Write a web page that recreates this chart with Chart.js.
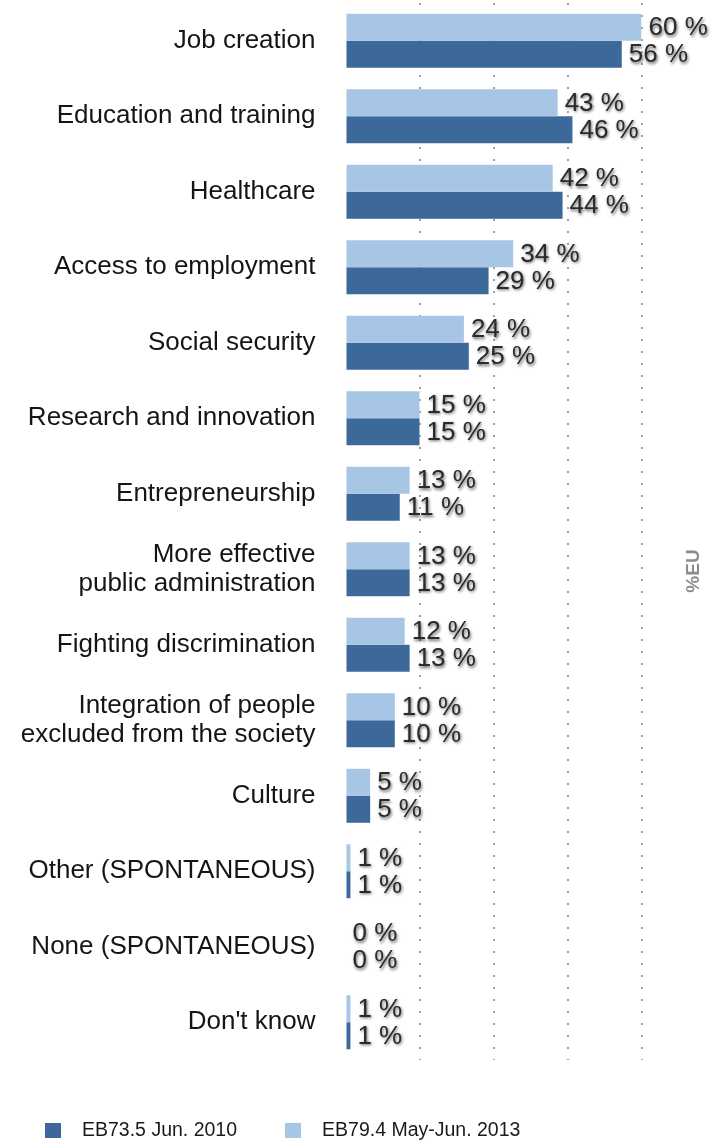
<!DOCTYPE html>
<html>
<head>
<meta charset="utf-8">
<script src="https://cdn.jsdelivr.net/npm/chart.js@4"></script>
<style>
  html, body { margin: 0; padding: 0; background: #ffffff; }
  canvas { display: block; }
</style>
</head>
<body>
<canvas id="c" width="713" height="1140"></canvas>
<script>
const categories = [
  "Job creation",
  "Education and training",
  "Healthcare",
  "Access to employment",
  "Social security",
  "Research and innovation",
  "Entrepreneurship",
  ["More effective", "public administration"],
  "Fighting discrimination",
  ["Integration of people", "excluded from the society"],
  "Culture",
  "Other (SPONTANEOUS)",
  "None (SPONTANEOUS)",
  "Don't know"
];
const seriesNames = ["EB79.4 May-Jun. 2013", "EB73.5 Jun. 2010"];
const values2013 = [60, 43, 42, 34, 24, 15, 13, 13, 12, 10, 5, 1, 0, 1];
const values2010 = [56, 46, 44, 29, 25, 15, 11, 13, 13, 10, 5, 1, 0, 1];
const gridTicks = [0, 15, 30, 45, 60];
const axisTitle = "%EU";

const LIGHT = "#a7c6e6";
const DARK = "#3d699a";
const FONT = "'Liberation Sans', Arial, Helvetica, sans-serif";

const valueLabels = {
  id: "valueLabels",
  afterDatasetsDraw(chart) {
    const ctx = chart.ctx;
    ctx.save();
    ctx.font = "26px " + FONT;
    ctx.textAlign = "left";
    ctx.textBaseline = "middle";
    chart.data.datasets.forEach((ds, di) => {
      const meta = chart.getDatasetMeta(di);
      meta.data.forEach((bar, i) => {
        const txt = ds.data[i] + " %";
        ctx.shadowColor = "rgba(0,0,0,0.6)";
        ctx.shadowBlur = 3;
        ctx.shadowOffsetX = 1;
        ctx.shadowOffsetY = 1.5;
        ctx.fillStyle = "#2a2a2a";
        ctx.fillText(txt, bar.x + 7, bar.y + 1);
      });
    });
    ctx.restore();
  }
};

const extras = {
  id: "extras",
  afterDraw(chart) {
    const ctx = chart.ctx;
    ctx.save();
    ctx.translate(694, 571);
    ctx.rotate(-Math.PI / 2);
    ctx.font = "bold 19px " + FONT;
    ctx.fillStyle = "#8c8c8c";
    ctx.textAlign = "center";
    ctx.textBaseline = "middle";
    ctx.fillText(axisTitle, 0, 0);
    ctx.restore();

    ctx.save();
    ctx.font = "19.5px " + FONT;
    ctx.textBaseline = "middle";
    ctx.textAlign = "left";
    const order = [1, 0];
    let x = 45;
    const y = 1130.5;
    order.forEach(di => {
      const ds = chart.data.datasets[di];
      ctx.fillStyle = ds.backgroundColor;
      ctx.fillRect(x, y - 7.5, 16, 15);
      ctx.fillStyle = "#1a1a1a";
      ctx.fillText(ds.label, x + 37, y);
      x += 37 + ctx.measureText(ds.label).width + 48;
    });
    ctx.restore();
  }
};

new Chart(document.getElementById("c"), {
  type: "bar",
  data: {
    labels: categories,
    datasets: [
      { label: seriesNames[0], data: values2013, backgroundColor: LIGHT, borderWidth: 0 },
      { label: seriesNames[1], data: values2010, backgroundColor: DARK, borderWidth: 0 }
    ]
  },
  options: {
    indexAxis: "y",
    responsive: false,
    animation: false,
    devicePixelRatio: 1,
    layout: { padding: { top: 3, right: 71.5, bottom: 80, left: 0 } },
    datasets: { bar: { categoryPercentage: 0.715, barPercentage: 1.0 } },
    plugins: {
      legend: { display: false },
      tooltip: { enabled: false },
      title: { display: false }
    },
    scales: {
      x: {
        min: 0,
        max: 60,
        afterBuildTicks(scale) { scale.ticks = gridTicks.map(v => ({ value: v })); },
        afterFit(scale) { scale.paddingLeft = 0; scale.paddingRight = 0; scale.height = 0; },
        ticks: { display: false, padding: 0 },
        border: { display: false, dash: [2, 10] },
        grid: {
          drawTicks: false,
          tickLength: 0,
          lineWidth: 2,
          color: c => (c.tick && c.tick.value === 0) ? "rgba(0,0,0,0)" : "#a0a0a0"
        }
      },
      y: {
        afterFit(scale) { scale.width = 345.5; scale.paddingTop = 0; scale.paddingBottom = 0; },
        border: { display: false },
        grid: { display: false, drawTicks: false, tickLength: 0 },
        ticks: {
          padding: 30,
          color: "#151515",
          font: { family: FONT, size: 26, lineHeight: 1.12 }
        }
      }
    }
  },
  plugins: [valueLabels, extras]
});
</script>
</body>
</html>
